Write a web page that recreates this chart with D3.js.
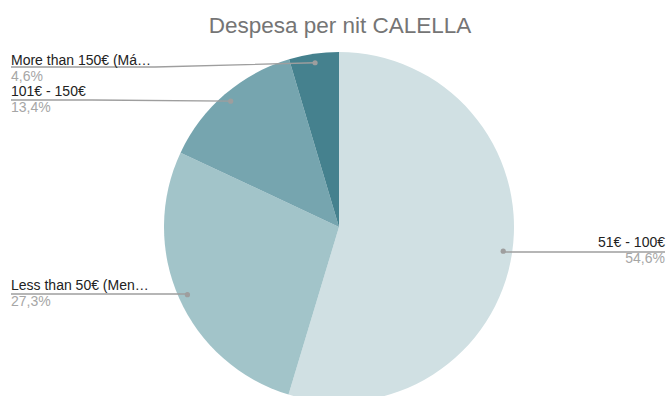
<!DOCTYPE html>
<html>
<head>
<meta charset="utf-8">
<script src="https://cdn.jsdelivr.net/npm/d3@7"></script>
<style>
  html, body { margin: 0; padding: 0; background: #fff; }
  svg { display: block; font-family: Arial, "Liberation Sans", sans-serif; }
</style>
</head>
<body>
<svg id="chart" width="669" height="396"></svg>
<script>
// Spending per night, Calella
const categories = ["51€ - 100€", "Less than 50€ (Men…", "101€ - 150€", "More than 150€ (Má…"];
const values = [54.6, 27.3, 13.4, 4.6];
const colors = ["#d0e0e3", "#a2c4c9", "#76a5af", "#45818e"];
const title = "Despesa per nit CALELLA";

// Label placement for each slice: side, text x, baseline of the name, y of the leader line
const labelSide = ["right", "left", "left", "left"];
const labelX = [665, 11, 11, 11];
const labelY = [247, 290, 96, 65];
const leaderY = [252, 294, 100, 67];
const leaderBend = [503, 187, 92, 155];

const cx = 339, cy = 227, R = 175, dotR = 166;

const svg = d3.select("#chart");

svg.append("text")
  .attr("x", 340).attr("y", 33)
  .attr("text-anchor", "middle")
  .attr("font-size", 22.5)
  .attr("fill", "#757575")
  .text(title);

const pie = d3.pie().sort(null).value(d => d.value);
const arcs = pie(values.map((v, i) => ({ value: v, name: categories[i], i })));

const arc = d3.arc().innerRadius(0).outerRadius(R);
const dotArc = d3.arc().innerRadius(dotR).outerRadius(dotR);

const g = svg.append("g").attr("transform", `translate(${cx},${cy})`);
g.selectAll("path.slice")
  .data(arcs)
  .join("path")
  .attr("class", "slice")
  .attr("d", arc)
  .attr("fill", d => colors[d.data.i]);

const fmt = v => d3.format(".1f")(v).replace(".", ",") + "%";

arcs.forEach(d => {
  const i = d.data.i;
  const [dx, dy] = dotArc.centroid(d);
  const px = cx + dx, py = cy + dy;
  const right = labelSide[i] === "right";
  const pts = right
    ? [[px, py], [leaderBend[i], leaderY[i]], [labelX[i], leaderY[i]]]
    : [[labelX[i], leaderY[i]], [leaderBend[i], leaderY[i]], [px, py]];

  svg.append("path")
    .attr("d", d3.line()(pts))
    .attr("fill", "none")
    .attr("stroke", "#9e9e9e")
    .attr("stroke-width", 1.3);

  svg.append("circle")
    .attr("cx", px).attr("cy", py).attr("r", 2.6)
    .attr("fill", "#9e9e9e");

  const anchor = right ? "end" : "start";
  svg.append("text")
    .attr("x", labelX[i]).attr("y", labelY[i])
    .attr("text-anchor", anchor)
    .attr("font-size", 14)
    .attr("fill", "#222")
    .text(d.data.name);
  svg.append("text")
    .attr("x", labelX[i]).attr("y", labelY[i] + 16)
    .attr("text-anchor", anchor)
    .attr("font-size", 14)
    .attr("fill", "#a6a6a6")
    .text(fmt(d.data.value));
});
</script>
</body>
</html>
